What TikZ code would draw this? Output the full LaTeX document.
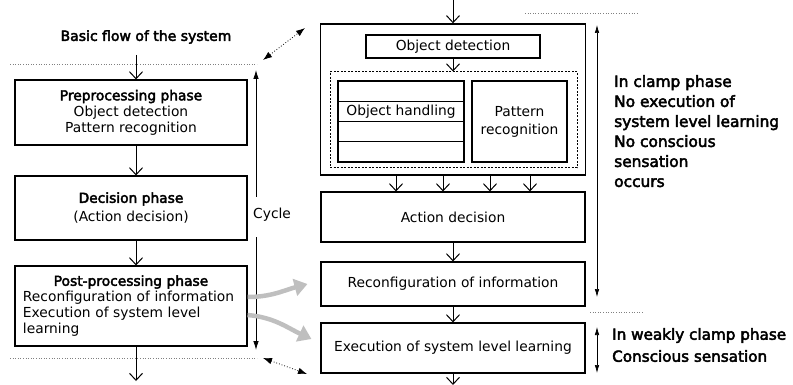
\documentclass[tikz,border=0pt]{standalone}
\usepackage{fontspec}
\setmainfont{DejaVu Sans}[BoldFont={DejaVu Sans},BoldFeatures={FakeBold=3}]
\usetikzlibrary{arrows.meta}

\begin{document}
\begin{tikzpicture}[x=1pt,y=-1pt,
    font=\fontsize{13.8}{16}\selectfont,
    box/.style={draw,line width=1.1pt,inner sep=0pt,align=center},
    flow/.style={line width=1pt,-{Straight Barb[length=7pt,width=13pt,line width=1pt]}},
    span/.style={line width=0.7pt,{Latex[length=8pt,width=4.5pt]}-{Latex[length=8pt,width=4.5pt]}},
    link/.style={dotted,line width=0.8pt,{Latex[length=9pt,width=6.5pt]}-{Latex[length=9pt,width=6.5pt]}},
    cut/.style={dotted,line width=0.6pt,gray},
    feed/.style={line width=4.5pt,draw=gray!50,-{Triangle[length=13pt,width=17pt]}},
    note/.style={align=left,anchor=north west,inner sep=0pt,font=\bfseries\fontsize{15.4}{20}\selectfont}]

  \useasboundingbox (0,0) rectangle (793,385);

  % left column: basic flow
  \node[font=\bfseries\fontsize{14}{16}\selectfont] (title) at (146,37) {Basic flow of the system};
  \node[box,minimum width=232pt,minimum height=65pt] (pre) at (131,112.5)
    {\textbf{Preprocessing phase}\\Object detection\\Pattern recognition};
  \node[box,minimum width=232pt,minimum height=64pt] (dec) at (131,208)
    {\textbf{Decision phase}\\[3pt](Action decision)};
  \node[box,minimum width=232pt,minimum height=80pt,text width=216pt,align=left] (post) at (131,306)
    {\hfill\textbf{Post-processing phase}\hfill\null\\Reconfiguration of information\\Execution of system level\\learning};

  \coordinate (lin) at (136,55);
  \coordinate (lout) at (136,381);
  \draw[flow] (lin) -- (lin |- pre.north);
  \draw[flow] ([xshift=5pt]pre.south) -- ([xshift=5pt]dec.north);
  \draw[flow] ([xshift=5pt]dec.south) -- ([xshift=5pt]post.north);
  \draw[flow] ([xshift=5pt]post.south) -- (lout);

  % cycle
  \coordinate (cyctop) at (256,70);
  \coordinate (cyca) at (256,197);
  \coordinate (cycb) at (256,237);
  \coordinate (cycbot) at (256,350);
  \node[anchor=west,inner sep=0pt] (cyc) at (253,215) {Cycle};
  \draw[line width=0.8pt,-{Latex[length=9pt,width=5.5pt]}] (cyca) -- (cyctop);
  \draw[line width=0.8pt,-{Latex[length=9pt,width=5.5pt]}] (cycb) -- (cycbot);

  % phase borders
  \draw[cut] (10,64) -- (257,64);
  \draw[cut] (10,358) -- (257,358);
  \draw[cut] (525,13) -- (637,13);
  \draw[cut] (590,312) -- (643,312);
  \coordinate (la) at (263,60);
  \coordinate (ra) at (305,28);
  \coordinate (lb) at (263,358);
  \coordinate (rb) at (307,374);
  \draw[link] (la) -- (ra);
  \draw[link] (lb) -- (rb);

  % right column: detail
  \node[box,line width=1.4pt,minimum width=265pt,minimum height=151pt] (outer) at (453,99.5) {};
  \node[box,minimum width=174pt,minimum height=23pt] (objdet) at (453,46.5) {Object detection};
  \node[draw,line width=1pt,dash pattern=on 2pt off 1.5pt,minimum width=247pt,minimum height=96pt] (grp) at (453.5,120) {};
  \node[box,minimum width=126pt,minimum height=20.25pt] (oh1) at (401,91.1) {};
  \node[box,minimum width=126pt,minimum height=20.25pt] (oh2) at (401,111.4) {Object handling};
  \node[box,minimum width=126pt,minimum height=20.25pt] (oh3) at (401,131.6) {};
  \node[box,minimum width=126pt,minimum height=20.25pt] (oh4) at (401,151.9) {};
  \node[box,minimum width=95pt,minimum height=81pt] (pat) at (519.5,121.5) {Pattern\\[2pt]recognition};
  \node[box,minimum width=264pt,minimum height=50pt] (act) at (453,217) {Action decision};
  \node[box,minimum width=264pt,minimum height=44pt] (reco) at (453,284) {Reconfiguration of information};
  \node[box,minimum width=264pt,minimum height=50pt] (exe) at (453,348) {Execution of system level learning};

  \coordinate (rin) at (453,0);
  \coordinate (rout) at (453,385);
  \draw[flow] (rin) -- (outer.north);
  \draw[flow] (objdet.south) -- (objdet.south |- grp.north);
  \foreach \x in {396,443,490,530}
    \draw[flow] (\x,0 |- outer.south) -- (\x,0 |- act.north);
  \draw[flow] (act.south) -- (reco.north);
  \draw[flow] (reco.south) -- (exe.north);
  \draw[flow] (exe.south) -- (rout);

  % post-processing feeds the right column
  \draw[feed] ([yshift=9pt]post.east) to[out=0,in=195] ([xshift=-13pt]reco.west);
  \draw[feed] ([yshift=-9pt]post.east) to[out=-5,in=155] ([xshift=-9pt,yshift=9pt]exe.west);

  % clamp phases
  \coordinate (ca) at (597,25);
  \coordinate (cb) at (597,297);
  \coordinate (wa) at (597,327);
  \coordinate (wb) at (597,373);
  \draw[span] (ca) -- (cb);
  \draw[span] (wa) -- (wb);
  \node[note] (clamp) at (614,75)
    {In clamp phase\\No execution of\\system level learning\\No conscious\\sensation\\occurs};
  \node[note,font=\bfseries\fontsize{15.2}{22}\selectfont] (weak) at (612,328)
    {In weakly clamp phase\\Conscious sensation};
\end{tikzpicture}
\end{document}
